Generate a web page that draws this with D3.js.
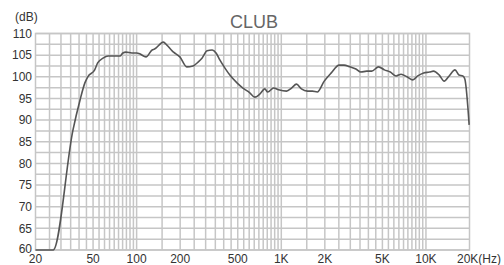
<!DOCTYPE html>
<html><head><meta charset="utf-8">
<script src="https://cdn.jsdelivr.net/npm/d3@7"></script>
<style>
html,body{margin:0;padding:0;background:#fff;}
svg{display:block;}
text{font-family:"Liberation Sans",Arial,Helvetica,sans-serif;}
</style></head>
<body>
<svg id="chart" width="504" height="265"></svg>
<script>
// ---- data ----
const freqs = [20,26.5,36.3,40.6,43.9,46.0,51.3,53.8,58.6,63.6,76.7,80.4,84.3,92.8,100.5,105,116,128,133,153,162,176,180,199,222,245,266,283,307,333,354,376,408,441,494,543,606,656,710,769,806,886,958,1088,1177,1274,1378,1516,1640,1774,1981,2215,2510,2716,2984,3279,3547,3897,4216,4703,5162,5667,6222,6732,7390,8112,8776,9634,10577,11260,12360,13370,14470,15880,16900,18000,18570,19890];
const levels = [60,60,87.7,94.6,98.6,100.0,101.6,103.2,104.3,104.8,104.8,105.5,105.7,105.5,105.5,105.3,104.6,106.2,106.4,108.0,107.3,106.0,105.7,104.6,102.3,102.5,103.4,104.3,106.0,106.2,105.5,103.9,102.0,100.4,98.6,97.4,96.3,95.3,96.0,97.2,96.5,97.4,97.0,96.7,97.4,98.3,97.2,96.7,96.7,96.5,99.0,100.9,102.7,102.7,102.3,101.8,101.1,101.3,101.3,102.3,101.6,101.1,100.2,100.6,100.0,99.3,100.2,100.9,101.1,101.3,100.4,99.0,100.2,101.6,100.4,100.2,99.5,88.9];
const yTicks = [60,65,70,75,80,85,90,95,100,105,110];
const yGrid = d3.range(60, 110.01, 2.5);
const xTickVals = [20,50,100,200,500,1000,2000,5000,10000,20000];
const xTickLabels = ["20","50","100","200","500","1K","2K","5K","10K","20K(Hz)"];
const xGrid = [].concat(d3.range(25,100.1,5), d3.range(150,1000.1,50), d3.range(1500,10000.1,500));
const title = "CLUB";
const yUnit = "(dB)";

// ---- layout ----
const svg = d3.select("#chart");
const L = 35.5, R = 469.5, T = 33.5, B = 250;
const x = d3.scaleLog().domain([20,20000]).range([L,R]);
const y = d3.scaleLinear().domain([60,110]).range([B,T]);
const gridColor = "#c6c6c6";

const g = svg.append("g");
g.selectAll("line.hg").data(yGrid).join("line")
  .attr("x1",L).attr("x2",R).attr("y1",d=>y(d)).attr("y2",d=>y(d))
  .attr("stroke",gridColor).attr("stroke-width",1.5);
g.selectAll("line.vg").data(xGrid).join("line")
  .attr("x1",d=>x(d)).attr("x2",d=>x(d)).attr("y1",T).attr("y2",B)
  .attr("stroke",gridColor).attr("stroke-width",1.5);
g.append("rect").attr("x",L).attr("y",T).attr("width",R-L).attr("height",B-T)
  .attr("fill","none").attr("stroke",gridColor).attr("stroke-width",1.5);

// curve
const line = d3.line().x((d,i)=>x(freqs[i])).y(d=>y(d)).curve(d3.curveMonotoneX);
svg.append("path").datum(levels).attr("d",line)
  .attr("fill","none").attr("stroke","#555").attr("stroke-width",1.6)
  .attr("stroke-linejoin","round");

// y labels
svg.selectAll("text.yl").data(yTicks).join("text")
  .attr("x",32).attr("y",d=>y(d)+ (d===60 ? 2.5 : 4.3))
  .attr("text-anchor","end").attr("font-size",12).attr("fill","#333")
  .text(d=>d);
svg.append("text").attr("x",15).attr("y",21).attr("font-size",12).attr("fill","#333").text(yUnit);

// x labels
svg.selectAll("text.xl").data(xTickVals).join("text")
  .attr("x",(d,i)=> i===xTickVals.length-1 ? x(d)-12.5 : x(d))
  .attr("y",262.5)
  .attr("text-anchor",(d,i)=> i===xTickVals.length-1 ? "start" : "middle")
  .attr("font-size",12).attr("fill","#333")
  .text((d,i)=>xTickLabels[i]);

// title
svg.append("text").attr("x",254).attr("y",28).attr("text-anchor","middle")
  .attr("font-size",18).attr("fill","#666").text(title);
</script>
</body></html>
